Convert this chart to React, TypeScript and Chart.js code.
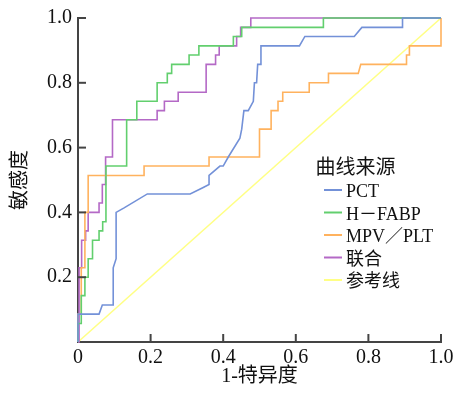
import React, { useEffect, useRef } from 'react';
import { Chart, registerables } from 'chart.js';

Chart.register(...registerables);

// ---- data ----
const seriesNames = ['PCT', 'H－FABP', 'MPV／PLT', '联合', '参考线'];
const seriesColors = ['#7391d8', '#62cf6e', '#ffb25e', '#b469c6', '#ffff85'];

const pctX = [0, 0, 0.058, 0.067, 0.097, 0.097, 0.105, 0.105, 0.127, 0.191, 0.309, 0.345, 0.361, 0.361, 0.391, 0.4, 0.414, 0.446, 0.451, 0.457, 0.469, 0.483, 0.486, 0.492, 0.495, 0.503, 0.504, 0.61, 0.625, 0.761, 0.782, 0.894, 0.894, 1];
const pctY = [0, 0.086, 0.086, 0.114, 0.114, 0.229, 0.257, 0.4, 0.414, 0.457, 0.457, 0.477, 0.486, 0.514, 0.543, 0.543, 0.571, 0.629, 0.657, 0.714, 0.714, 0.743, 0.8, 0.8, 0.857, 0.857, 0.914, 0.914, 0.943, 0.943, 0.971, 0.971, 1, 1];

const hfabpX = [0, 0, 0.009, 0.009, 0.019, 0.019, 0.028, 0.028, 0.04, 0.04, 0.058, 0.058, 0.068, 0.068, 0.077, 0.077, 0.134, 0.134, 0.162, 0.162, 0.218, 0.218, 0.246, 0.246, 0.258, 0.258, 0.306, 0.306, 0.333, 0.333, 0.428, 0.428, 0.451, 0.451, 0.676, 0.676, 1];
const hfabpY = [0, 0.057, 0.057, 0.143, 0.143, 0.2, 0.2, 0.257, 0.257, 0.314, 0.314, 0.343, 0.343, 0.371, 0.371, 0.543, 0.543, 0.686, 0.686, 0.743, 0.743, 0.8, 0.8, 0.829, 0.829, 0.857, 0.857, 0.886, 0.886, 0.914, 0.914, 0.943, 0.943, 0.971, 0.971, 1, 1];

const mpvX = [0, 0, 0.009, 0.009, 0.019, 0.019, 0.028, 0.028, 0.182, 0.182, 0.361, 0.361, 0.5, 0.5, 0.532, 0.532, 0.551, 0.551, 0.564, 0.564, 0.637, 0.637, 0.69, 0.69, 0.772, 0.779, 0.905, 0.905, 0.913, 0.913, 1, 1];
const mpvY = [0, 0.086, 0.086, 0.229, 0.229, 0.4, 0.4, 0.514, 0.514, 0.543, 0.543, 0.571, 0.571, 0.657, 0.657, 0.714, 0.714, 0.743, 0.743, 0.771, 0.771, 0.8, 0.8, 0.829, 0.829, 0.857, 0.857, 0.886, 0.886, 0.914, 0.914, 1];

const combX = [0, 0.003, 0.003, 0.01, 0.01, 0.021, 0.021, 0.028, 0.028, 0.058, 0.058, 0.067, 0.067, 0.076, 0.076, 0.095, 0.095, 0.218, 0.218, 0.238, 0.238, 0.276, 0.276, 0.353, 0.353, 0.379, 0.379, 0.389, 0.389, 0.437, 0.437, 0.448, 0.448, 0.476, 0.476, 1];
const combY = [0, 0, 0.229, 0.229, 0.314, 0.314, 0.343, 0.343, 0.4, 0.4, 0.429, 0.429, 0.486, 0.486, 0.571, 0.571, 0.686, 0.686, 0.714, 0.714, 0.743, 0.743, 0.771, 0.771, 0.857, 0.857, 0.886, 0.886, 0.914, 0.914, 0.943, 0.943, 0.971, 0.971, 1, 1];

const refX = [0, 1];
const refY = [0, 1];

const xTickLabels = ['0', '0.2', '0.4', '0.6', '0.8', '1.0'];
const yTickLabels = ['', '0.2', '0.4', '0.6', '0.8', '1.0'];
const xTitle = '1-特异度';
const yTitle = '敏感度';
const legendTitle = '曲线来源';

const FONT = "'Liberation Serif', 'Times New Roman', 'Noto Sans CJK SC', serif";

const toPts = (xs: number[], ys: number[]) => xs.map((x, i) => ({ x, y: ys[i] }));

const innerTicks = {
  id: 'innerTicks',
  afterDraw(chart: any) {
    const { ctx, chartArea, scales } = chart;
    const xs = scales.x;
    const ys = scales.y;
    ctx.save();
    ctx.strokeStyle = '#444';
    ctx.lineWidth = 2;
    xs.ticks.forEach((_t: any, i: number) => {
      if (i === 0) return;
      const px = xs.getPixelForTick(i);
      ctx.beginPath();
      ctx.moveTo(px, chartArea.bottom);
      ctx.lineTo(px, chartArea.bottom - 8);
      ctx.stroke();
    });
    ys.ticks.forEach((_t: any, i: number) => {
      if (i === 0) return;
      const py = ys.getPixelForTick(i);
      ctx.beginPath();
      ctx.moveTo(chartArea.left, py);
      ctx.lineTo(chartArea.left + 8, py);
      ctx.stroke();
    });
    ctx.restore();
  },
};

const insideLegend = {
  id: 'insideLegend',
  afterDraw(chart: any) {
    const { ctx } = chart;
    ctx.save();
    ctx.fillStyle = '#111';
    ctx.textBaseline = 'middle';
    ctx.textAlign = 'center';
    ctx.font = `20px ${FONT}`;
    ctx.fillText(legendTitle, 355.5, 169);
    ctx.textAlign = 'left';
    ctx.font = `18px ${FONT}`;
    chart.data.datasets.forEach((ds: any, i: number) => {
      const y = 190 + i * 22.5;
      ctx.strokeStyle = ds.borderColor;
      ctx.lineWidth = 2;
      ctx.beginPath();
      ctx.moveTo(324, y);
      ctx.lineTo(342, y);
      ctx.stroke();
      ctx.fillText(ds.label, 346, y + 2.5);
    });
    ctx.restore();
  },
};

export default function App() {
  const ref = useRef<HTMLCanvasElement | null>(null);
  useEffect(() => {
    if (!ref.current) return;
    const series = [
      toPts(pctX, pctY),
      toPts(hfabpX, hfabpY),
      toPts(mpvX, mpvY),
      toPts(combX, combY),
      toPts(refX, refY),
    ];
    const chart = new Chart(ref.current, {
      type: 'scatter',
      data: {
        datasets: series.map((data, i) => ({
          label: seriesNames[i],
          data,
          showLine: true,
          borderColor: seriesColors[i],
          backgroundColor: seriesColors[i],
          borderWidth: 1.6,
          pointRadius: 0,
          pointHoverRadius: 0,
          tension: 0,
          clip: false as any,
        })),
      },
      options: {
        animation: false,
        responsive: false,
        events: [],
        layout: { padding: { left: 0, right: 18, top: 17, bottom: 0 } },
        plugins: { legend: { display: false }, tooltip: { enabled: false } },
        scales: {
          x: {
            type: 'linear',
            min: 0,
            max: 1,
            afterFit: (s: any) => { s.height = 51; },
            ticks: {
              stepSize: 0.2,
              padding: 4,
              color: '#111',
              font: { family: FONT, size: 20 },
              maxRotation: 0,
              callback: (_v: any, i: number) => xTickLabels[i],
            },
            grid: { display: false, drawTicks: false },
            border: { display: true, color: '#444', width: 2 },
            title: {
              display: true,
              text: xTitle,
              color: '#111',
              font: { family: FONT, size: 20 },
              padding: { top: 0, bottom: 4 },
            },
          },
          y: {
            type: 'linear',
            min: 0,
            max: 1,
            afterFit: (s: any) => { s.width = 78; },
            ticks: {
              stepSize: 0.2,
              padding: 6,
              color: '#111',
              font: { family: FONT, size: 20 },
              callback: (_v: any, i: number) => yTickLabels[i],
            },
            grid: { display: false, drawTicks: false },
            border: { display: true, color: '#444', width: 2 },
            title: {
              display: true,
              text: yTitle,
              color: '#111',
              font: { family: FONT, size: 20 },
              padding: { top: 9, bottom: 0 },
            },
          },
        },
      },
      plugins: [innerTicks, insideLegend],
    });
    return () => chart.destroy();
  }, []);
  return (
    <div style={{ position: 'absolute', left: 0, top: 0, width: 459, height: 393 }}>
      <canvas ref={ref} width={459} height={393} style={{ width: 459, height: 393 }} />
    </div>
  );
}
